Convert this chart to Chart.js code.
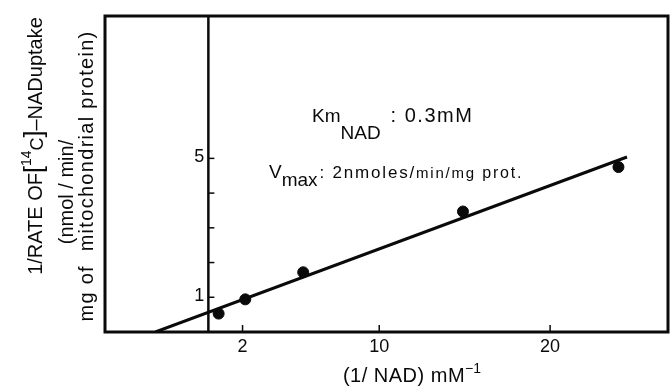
<!DOCTYPE html>
<html>
<head>
<meta charset="utf-8">
<script src="https://cdn.jsdelivr.net/npm/chart.js@4"></script>
<style>
  html, body { margin: 0; padding: 0; background: #fff; }
  #wrap { width: 670px; height: 387px; }
</style>
</head>
<body>
<div id="wrap"><canvas id="myChart" width="670" height="387"></canvas></div>
<script>
// measured points: 1/[NAD] (mM^-1) vs 1/rate
let nadInv = [0.6, 2.16, 5.55, 14.9, 24.0];
let rateInv = [0.53, 0.94, 1.72, 3.47, 4.75];
// fitted line end points
let fitX = [-3.1, 24.5];
let fitY = [0, 5.04];
let xTicks = [2, 10, 20];
let yTicks = [1, 2, 3, 4, 5];
let yTickLabels = ["1", "", "", "", "5"];

const ink = "#0a0a0a";
const FONT = "'Liberation Sans', Arial, sans-serif";

// draws a list of text pieces one after another, {t, size, dy, sp}
function richText(ctx, parts, x, y, align) {
    let total = 0;
    parts.forEach(p => {
        ctx.font = p.size + "px " + FONT;
        ctx.letterSpacing = (p.sp || 0) + "px";
        total += ctx.measureText(p.t).width;
    });
    let cx = align === "center" ? x - total / 2 : x;
    ctx.textAlign = "left";
    ctx.textBaseline = "alphabetic";
    parts.forEach(p => {
        ctx.font = p.size + "px " + FONT;
        ctx.letterSpacing = (p.sp || 0) + "px";
        ctx.fillText(p.t, cx, y + (p.dy || 0));
        cx += ctx.measureText(p.t).width;
    });
    ctx.letterSpacing = "0px";
    return cx;
}

const framePlugin = {
    id: "frame",
    afterDatasetsDraw(chart) {
        let ctx = chart.ctx;
        let a = chart.chartArea;
        let xs = chart.scales.x, ys = chart.scales.y;
        ctx.save();
        ctx.strokeStyle = ink;
        ctx.fillStyle = ink;
        // outer box
        ctx.lineWidth = 3;
        ctx.strokeRect(a.left, a.top, a.right - a.left, a.bottom - a.top);
        // y axis at x = 0
        let x0 = xs.getPixelForValue(0);
        ctx.lineWidth = 2.5;
        ctx.beginPath();
        ctx.moveTo(x0, a.top);
        ctx.lineTo(x0, a.bottom);
        ctx.stroke();
        // y ticks pointing right
        ctx.lineWidth = 1.5;
        ctx.font = "18px " + FONT;
        ctx.textAlign = "right";
        ctx.textBaseline = "middle";
        yTicks.forEach((v, i) => {
            let py = ys.getPixelForValue(v);
            ctx.beginPath();
            ctx.moveTo(x0, py);
            ctx.lineTo(x0 + 6, py);
            ctx.stroke();
            if (yTickLabels[i]) ctx.fillText(yTickLabels[i], x0 - 4, py - 1);
        });
        // x ticks pointing up
        let y0 = ys.getPixelForValue(0);
        ctx.textAlign = "center";
        ctx.textBaseline = "top";
        xTicks.forEach(v => {
            let px = xs.getPixelForValue(v);
            ctx.beginPath();
            ctx.moveTo(px, y0);
            ctx.lineTo(px, y0 - 7);
            ctx.stroke();
            ctx.fillText(String(v), px, y0 + 6);
        });
        // x title
        richText(ctx, [
            {t: "(1/ NAD) mM", size: 20, sp: 0.5},
            {t: "\u22121", size: 14, dy: -9}
        ], 412, 382, "center");
        // annotations
        let k = richText(ctx, [{t: "Km", size: 19}], 312, 122);
        k = richText(ctx, [{t: "NAD", size: 19}], k, 139);
        richText(ctx, [{t: ": 0.3mM", size: 20, sp: 1.5}], k + 10, 122);
        let v = richText(ctx, [{t: "V", size: 19}], 269, 178);
        v = richText(ctx, [{t: "max", size: 19}], v, 186);
        richText(ctx, [
            {t: ": 2nmoles/", size: 17, sp: 1.8},
            {t: "min/mg", size: 15, sp: 1.8},
            {t: " prot.", size: 16, sp: 1.8}
        ], v + 2, 178);
        // y title, rotated
        let lines = [
            {x: 42, y: 146, parts: [
                {t: "1/RATE OF", size: 20},
                {t: "[", size: 25},
                {t: "14", size: 14, dy: -11},
                {t: "C", size: 18, dy: 1},
                {t: "]", size: 25},
                {t: "\u2013NADuptake", size: 20}
            ]},
            {x: 73, y: 192, parts: [{t: "(nmol / min/", size: 20}]},
            {x: 93, y: 176, parts: [{t: "mg of  mitochondrial protein)", size: 20, sp: 1.3}]}
        ];
        lines.forEach(l => {
            ctx.save();
            ctx.translate(l.x, l.y);
            ctx.rotate(-Math.PI / 2);
            richText(ctx, l.parts, 0, 0, "center");
            ctx.restore();
        });
        ctx.restore();
    }
};

window.onload = function(){
    let ctx = document.getElementById("myChart").getContext("2d");
    new Chart(ctx, {
        type: "scatter",
        data: {
            datasets: [
                {
                    label: "fit",
                    data: fitX.map((x, i) => ({x: x, y: fitY[i]})),
                    showLine: true,
                    borderColor: ink,
                    borderWidth: 3,
                    pointRadius: 0
                },
                {
                    label: "data",
                    data: nadInv.map((x, i) => ({x: x, y: rateInv[i]})),
                    backgroundColor: ink,
                    borderColor: ink,
                    pointRadius: 5.5
                }
            ]
        },
        options: {
            responsive: false,
            animation: false,
            layout: { autoPadding: false, padding: { left: 105, right: 2, top: 16, bottom: 55 } },
            plugins: { legend: { display: false }, tooltip: { enabled: false } },
            scales: {
                x: { type: "linear", display: false, min: -6.05, max: 26.9 },
                y: { type: "linear", display: false, min: 0, max: 9.1 }
            }
        },
        plugins: [framePlugin]
    });
}
</script>
</body>
</html>
